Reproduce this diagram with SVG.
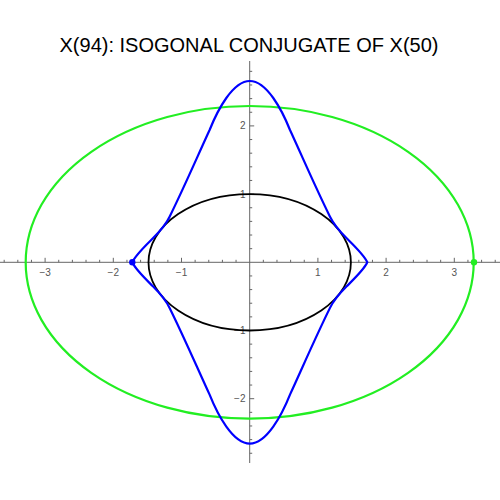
<svg xmlns="http://www.w3.org/2000/svg" width="500" height="500" viewBox="0 0 500 500">
<style>
.axis{stroke:#666;stroke-width:1;fill:none}
.tick{stroke:#666;stroke-width:1;fill:none}
.lbl{font-family:"Liberation Sans",Arial,sans-serif;font-size:10px;fill:#555}
.xl{text-anchor:middle}
.yl{text-anchor:end}
.title{font-family:"Liberation Sans",Arial,sans-serif;font-size:20px;fill:#000;text-anchor:middle}
.curve{fill:none;stroke-linejoin:round;stroke-linecap:round}
</style>
<rect width="500" height="500" fill="#fff"/>
<text id="title" class="title" x="249" y="51.5">X(94): ISOGONAL CONJUGATE OF X(50)</text>
<g id="axes">
<path class="axis" d="M0 262.3H500M249.7 61V463"/>
<path class="tick" d="M4.18 262.3v-2.5M17.82 262.3v-2.5M31.46 262.3v-2.5M45.1 262.3v-4.5M58.74 262.3v-2.5M72.38 262.3v-2.5M86.02 262.3v-2.5M99.66 262.3v-2.5M113.3 262.3v-4.5M126.94 262.3v-2.5M140.58 262.3v-2.5M154.22 262.3v-2.5M167.86 262.3v-2.5M181.5 262.3v-4.5M195.14 262.3v-2.5M208.78 262.3v-2.5M222.42 262.3v-2.5M236.06 262.3v-2.5M263.34 262.3v-2.5M276.98 262.3v-2.5M290.62 262.3v-2.5M304.26 262.3v-2.5M317.9 262.3v-4.5M331.54 262.3v-2.5M345.18 262.3v-2.5M358.82 262.3v-2.5M372.46 262.3v-2.5M386.1 262.3v-4.5M399.74 262.3v-2.5M413.38 262.3v-2.5M427.02 262.3v-2.5M440.66 262.3v-2.5M454.3 262.3v-4.5M467.94 262.3v-2.5M481.58 262.3v-2.5M495.22 262.3v-2.5"/>
<path class="tick" d="M249.7 248.66h2.5M249.7 235.02h2.5M249.7 221.38h2.5M249.7 207.74h2.5M249.7 194.1h4.5M249.7 180.46h2.5M249.7 166.82h2.5M249.7 153.18h2.5M249.7 139.54h2.5M249.7 125.9h4.5M249.7 112.26h2.5M249.7 98.62h2.5M249.7 84.98h2.5M249.7 71.34h2.5M249.7 275.94h2.5M249.7 289.58h2.5M249.7 303.22h2.5M249.7 316.86h2.5M249.7 330.5h4.5M249.7 344.14h2.5M249.7 357.78h2.5M249.7 371.42h2.5M249.7 385.06h2.5M249.7 398.7h4.5M249.7 412.34h2.5M249.7 425.98h2.5M249.7 439.62h2.5M249.7 453.26h2.5"/>
<text class="lbl xl" x="45.1" y="275.5">−3</text>
<text class="lbl xl" x="113.3" y="275.5">−2</text>
<text class="lbl xl" x="181.5" y="275.5">−1</text>
<text class="lbl xl" x="317.9" y="275.5">1</text>
<text class="lbl xl" x="386.1" y="275.5">2</text>
<text class="lbl xl" x="454.3" y="275.5">3</text>
<text class="lbl yl" x="245.5" y="129.4">2</text>
<text class="lbl yl" x="245.5" y="197.6">1</text>
<text class="lbl yl" x="245.5" y="334">−1</text>
<text class="lbl yl" x="245.5" y="402.2">−2</text>
</g>
<g id="green-ellipse">
<ellipse class="curve" cx="249.7" cy="262.3" rx="224" ry="156.3" stroke="#22ee22" stroke-width="2.2"/>
<circle cx="474" cy="262.3" r="3.2" fill="#22ee22"/>
</g>
<g id="black-ellipse">
<ellipse class="curve" cx="249.7" cy="262.3" rx="101.2" ry="68.2" stroke="#000" stroke-width="1.8"/>
</g>
<g id="blue-curve">
<path class="curve" stroke="#0000ff" stroke-width="2.2" transform="translate(249.8 262.3)" d="M0 -181.3C17 -181.3 32.2 -152.3 40.2 -132.3C53.5 -103.4 65.9 -74.5 80.2 -45.6C84.2 -37.2 91.9 -29 96.9 -24C103.9 -17 114.5 -7 117.5 0C114.5 7 103.9 17 96.9 24C91.9 29 84.2 37.2 80.2 45.6C65.9 74.5 53.5 103.4 40.2 132.3C32.2 152.3 17 181.3 0 181.3C-17 181.3 -32.2 152.3 -40.2 132.3C-53.5 103.4 -65.9 74.5 -80.2 45.6C-84.2 37.2 -91.9 29 -96.9 24C-103.9 17 -114.5 7 -117.5 0C-114.5 -7 -103.9 -17 -96.9 -24C-91.9 -29 -84.2 -37.2 -80.2 -45.6C-65.9 -74.5 -53.5 -103.4 -40.2 -132.3C-32.2 -152.3 -17 -181.3 0 -181.3Z"/>
<circle cx="132.3" cy="262.3" r="3.2" fill="#0000ff"/>
</g>
</svg>
